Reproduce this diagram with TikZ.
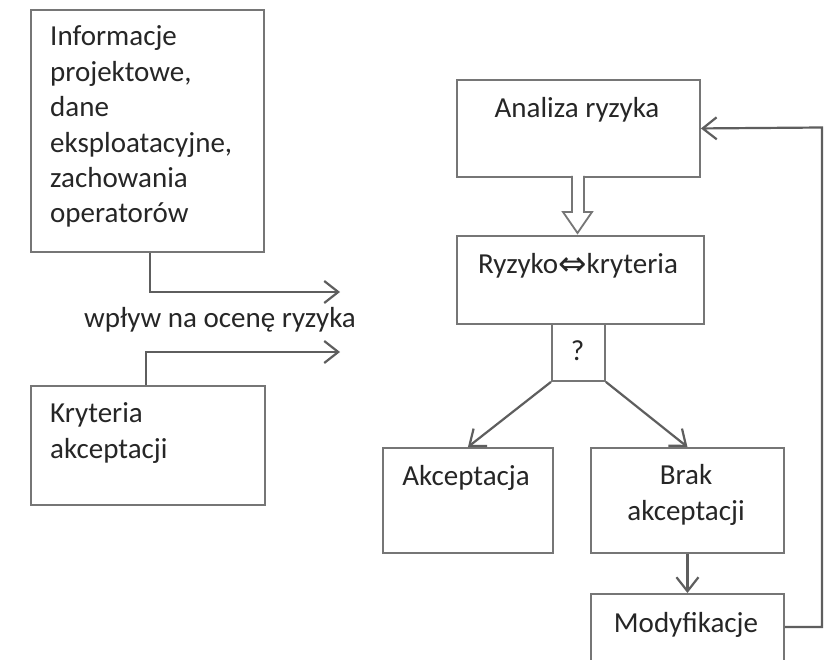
\documentclass[tikz,border=0pt]{standalone}
\usepackage{fontspec}
\setmainfont{Carlito}
\newfontfamily\symfont{DejaVu Sans}
\usetikzlibrary{arrows.meta}
\definecolor{linegray}{HTML}{767676}
\definecolor{arrowgray}{HTML}{5E5E5E}
\definecolor{inkgray}{HTML}{262626}
\tikzset{
  box/.style={draw=linegray, line width=1.9pt, fill=white, inner sep=0pt, anchor=north west},
  txt/.style={text=inkgray, inner sep=0pt, font=\fontsize{29}{35.4}\selectfont},
  conn/.style={draw=arrowgray, line width=2.2pt, -{Straight Barb[length=14pt,width=22pt,line width=2.2pt]}},
  hollow/.style={draw=linegray, line width=1.8pt, fill=white, line join=miter}
}
\begin{document}
\begin{tikzpicture}[x=1pt,y=-1pt]
\clip (0,0) rectangle (829,660);
\fill[white] (0,0) rectangle (829,660);

% left column: inputs (multi-line texts are placed by their last baseline)
\node[box, minimum width=233pt, minimum height=242pt] (info) at (30,9) {};
\node[txt, anchor=base west, align=left] (infotxt) at (50,223)
  {Informacje\\projektowe,\\dane\\eksploatacyjne,\\zachowania\\operatorów};
\node[box, minimum width=234pt, minimum height=119pt] (kryt) at (30,385) {};
\node[txt, anchor=base west, align=left] (krytxt) at (50,458) {Kryteria\\akceptacji};

% influence arrows and their caption
\coordinate (bend1) at (150,292);
\coordinate (end1) at (340,292);
\coordinate (bend2) at (146,352);
\coordinate (end2) at (340,352);
\draw[conn] (info.south -| bend1) -- (bend1) -- (end1);
\draw[conn] (kryt.north -| bend2) -- (bend2) -- (end2);
\node[txt, anchor=base] (infl) at (220,327) {wpływ na ocenę ryzyka};

% right column: assessment loop
\node[box, minimum width=243pt, minimum height=97pt] (anal) at (456,79) {};
\node[txt, anchor=base] (analtxt) at (577,118) {Analiza ryzyka};
\node[box, minimum width=247pt, minimum height=88pt] (cmp) at (456,235) {};
\node[txt, anchor=base] (cmptxt) at (578,273)
  {Ryzyko\raisebox{-2.5pt}{\symfont\fontsize{34}{34}\selectfont ⇔}kryteria};
\node[box, minimum width=53pt, minimum height=57pt] (q) at (551,323) {};
\node[txt, anchor=base] (qtxt) at (577.5,360) {?};

% hollow block arrow between analysis and comparison
\draw[hollow] (572,176) -- (572,212) -- (563,212) -- (577.5,233) -- (592,212)
  -- (584,212) -- (584,176);

\node[box, minimum width=170pt, minimum height=105pt] (akc) at (382,447) {};
\node[txt, anchor=base] (akctxt) at (466,485) {Akceptacja};
\node[box, minimum width=193pt, minimum height=105pt] (brak) at (590,447) {};
\node[txt, anchor=base, align=center] (braktxt) at (686,520) {Brak\\akceptacji};
\node[box, minimum width=193pt, minimum height=80pt] (mod) at (590,593) {};
\node[txt, anchor=base] (modtxt) at (686,632) {Modyfikacje};

\draw[conn] (q.south west) -- (akc.north);
\draw[conn] (q.south east) -- (brak.north);
\draw[conn] (brak.south) -- (mod.north);

% feedback loop back to the analysis
\coordinate (loopb) at (822,627);
\coordinate (loopt) at (822,127.5);
\draw[conn] (mod.east |- loopb) -- (loopb) -- (loopt) -- (anal.east);
\end{tikzpicture}
\end{document}
